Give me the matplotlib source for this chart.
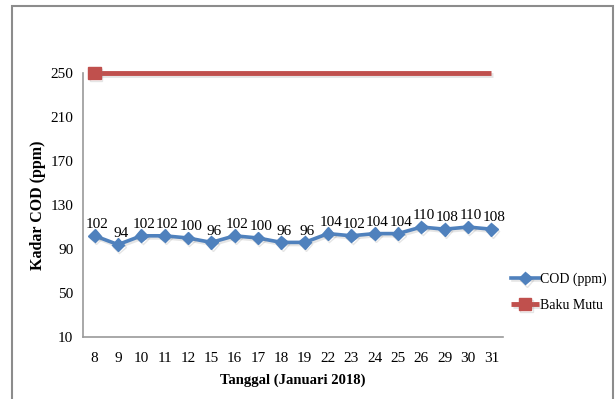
import matplotlib
matplotlib.use("Agg")
import matplotlib.pyplot as plt
import matplotlib.patheffects as pe
from matplotlib.patches import Rectangle

# data
tanggal = ["8", "9", "10", "11", "12", "15", "16", "17", "18", "19",
           "22", "23", "24", "25", "26", "29", "30", "31"]
cod = [102, 94, 102, 102, 100, 96, 102, 100, 96, 96,
       104, 102, 104, 104, 110, 108, 110, 108]
baku_mutu = [250] * len(tanggal)
y_ticks = [10, 50, 90, 130, 170, 210, 250]

plt.rcParams["font.family"] = ["Liberation Serif", "DejaVu Serif"]

fig = plt.figure(figsize=(6.15, 3.99), dpi=100)
ax = fig.add_axes([83 / 615, 1 - 337 / 399, 420 / 615, 264 / 399])

blue = "#4F81BD"
red = "#C0504D"
shadow = [pe.SimpleLineShadow(offset=(1, -1.5), shadow_color="gray", alpha=0.2), pe.Normal()]

x = list(range(len(tanggal)))
ax.plot(x, baku_mutu, color=red, lw=3.5, marker="s", markersize=9,
        markevery=[0], label="Baku Mutu", solid_capstyle="butt",
        path_effects=shadow, clip_on=False)
ax.plot(x, cod, color=blue, lw=2.6, marker="D", markersize=6.5,
        label="COD (ppm)", path_effects=shadow)

for xi, v in zip(x, cod):
    ax.annotate(str(v), (xi, v), xytext=(2, 3.5), textcoords="offset points",
                ha="center", va="bottom", fontsize=11)

ax.set_xlim(-0.5, len(tanggal) - 0.5)
ax.set_ylim(10, 250)
ax.set_xticks(x)
ax.set_xticklabels(tanggal)
ax.set_yticks(y_ticks)
ax.tick_params(axis="both", length=0, labelsize=11)
ax.tick_params(axis="x", pad=11)
ax.tick_params(axis="y", pad=7)

for s in ["top", "right"]:
    ax.spines[s].set_visible(False)
for s in ["left", "bottom"]:
    ax.spines[s].set_color("#9a9a9a")
    ax.spines[s].set_linewidth(1.2)

ax.set_xlabel("Tanggal (Januari 2018)", fontsize=10.5, fontweight="bold", labelpad=6)
ax.set_ylabel("Kadar COD (ppm)", fontsize=11.5, fontweight="bold", labelpad=3)

handles, labels = ax.get_legend_handles_labels()
leg = ax.legend(handles[::-1], labels[::-1], loc="center left",
                bbox_to_anchor=(0.99, 0.17), frameon=False, fontsize=10,
                handlelength=2.0, handletextpad=0.05, labelspacing=0.9)

# outer chart border
fig.patches.append(Rectangle((12 / 615, -0.05), 601 / 615, 1.05 - 6 / 399,
                             transform=fig.transFigure, fill=False,
                             edgecolor="#8c8c8c", lw=1.5))

fig.savefig("out.png", dpi=100)
